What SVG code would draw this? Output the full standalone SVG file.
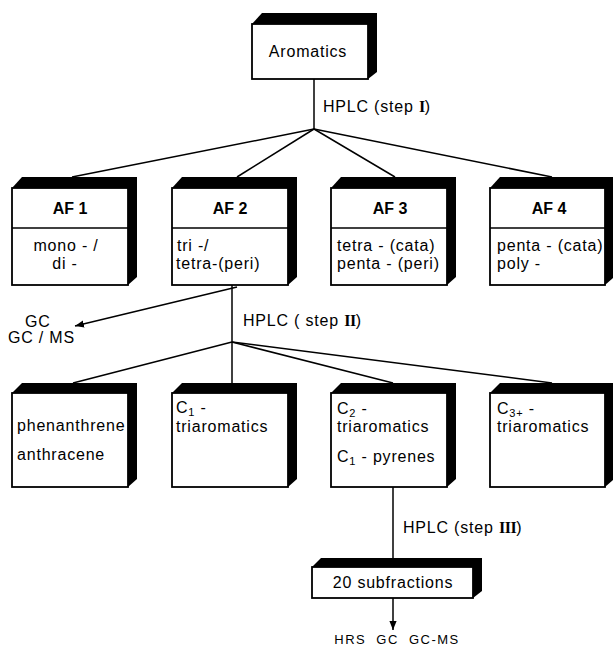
<svg xmlns="http://www.w3.org/2000/svg" width="613" height="648" viewBox="0 0 613 648">
<defs>
<style>
.side{fill:#000}
.face{fill:#fff;stroke:#000;stroke-width:1.8}
.t{font-family:"Liberation Sans",Arial,sans-serif;font-size:16px;letter-spacing:0.8px;fill:#000}
.b{font-family:"Liberation Sans",Arial,sans-serif;font-size:16px;font-weight:bold;fill:#000}
.rn{font-family:"Liberation Serif","Times New Roman",serif;font-weight:bold;letter-spacing:-0.5px}
.ln{stroke:#000;stroke-width:1.5;fill:none}
.sub{font-size:11px}
</style>
<marker id="ah" viewBox="0 0 10 10" refX="10" refY="5" markerWidth="9" markerHeight="9" markerUnits="userSpaceOnUse" orient="auto">
<path d="M0,1 L10,5 L0,9 Z" fill="#000"/>
</marker>
</defs>
<rect width="613" height="648" fill="#fff"/>

<g id="connectors">
<line class="ln" x1="314" y1="79" x2="314" y2="129"/>
<line class="ln" x1="314" y1="129" x2="72" y2="177"/>
<line class="ln" x1="314" y1="129" x2="237" y2="177"/>
<line class="ln" x1="314" y1="129" x2="395" y2="177"/>
<line class="ln" x1="314" y1="129" x2="552" y2="177"/>
<line class="ln" x1="232" y1="285" x2="232" y2="342"/>
<line class="ln" x1="237" y1="287" x2="75" y2="326" marker-end="url(#ah)"/>
<line class="ln" x1="232" y1="342" x2="73" y2="383"/>
<line class="ln" x1="232" y1="342" x2="232" y2="383"/>
<line class="ln" x1="232" y1="342" x2="393" y2="383"/>
<line class="ln" x1="232" y1="342" x2="552" y2="383"/>
<line class="ln" x1="393" y1="487" x2="393" y2="567"/>
<line class="ln" x1="393" y1="598" x2="393" y2="630" marker-end="url(#ah)"/>
<text class="t" x="323" y="112">HPLC (step <tspan class="rn">I</tspan>)</text>
<text class="t" x="243" y="326">HPLC ( step <tspan class="rn">II</tspan>)</text>
<text class="t" x="403" y="533">HPLC  (step <tspan class="rn">III</tspan>)</text>
<text class="t" x="25" y="327">GC</text>
<text class="t" x="8" y="343">GC / MS</text>
<text class="t" x="397" y="644" text-anchor="middle" style="font-size:13px;letter-spacing:1.5px;word-spacing:5px">HRS GC GC-MS</text>
</g>

<g id="aromatics">
<path class="side" d="M252,24 L262,13 L377,13 L377,72 L368,79 Z"/>
<rect class="face" x="252" y="24" width="116" height="55"/>
<text class="t" x="308" y="57" text-anchor="middle">Aromatics</text>
</g>

<g id="af1">
<path class="side" d="M12,188 L22,177 L137,177 L137,277 L128,285 Z"/>
<rect class="face" x="12" y="188" width="116" height="97"/>
<line class="ln" x1="12" y1="228" x2="128" y2="228"/>
<text class="b" x="70" y="214" text-anchor="middle">AF 1</text>
<text class="t" x="66" y="251" text-anchor="middle">mono - /</text>
<text class="t" x="65" y="269" text-anchor="middle">di -</text>
</g>

<g id="af2">
<path class="side" d="M172,188 L182,177 L297,177 L297,277 L288,285 Z"/>
<rect class="face" x="172" y="188" width="116" height="97"/>
<line class="ln" x1="172" y1="228" x2="288" y2="228"/>
<text class="b" x="230" y="214" text-anchor="middle">AF 2</text>
<text class="t" x="177" y="251">tri -/</text>
<text class="t" x="176" y="269">tetra-(peri)</text>
</g>

<g id="af3">
<path class="side" d="M331,188 L341,177 L456,177 L456,277 L447,285 Z"/>
<rect class="face" x="331" y="188" width="116" height="97"/>
<line class="ln" x1="331" y1="228" x2="447" y2="228"/>
<text class="b" x="390" y="214" text-anchor="middle">AF 3</text>
<text class="t" x="337" y="251">tetra - (cata)</text>
<text class="t" x="337" y="269">penta - (peri)</text>
</g>

<g id="af4">
<path class="side" d="M490,188 L500,177 L614,177 L614,277 L605,285 Z"/>
<rect class="face" x="490" y="188" width="115" height="97"/>
<line class="ln" x1="490" y1="228" x2="605" y2="228"/>
<text class="b" x="549" y="214" text-anchor="middle">AF 4</text>
<text class="t" x="497" y="251">penta - (cata)</text>
<text class="t" x="497" y="269">poly -</text>
</g>

<g id="phen">
<path class="side" d="M12,393 L22,383 L137,383 L137,479 L128,487 Z"/>
<rect class="face" x="12" y="393" width="116" height="94"/>
<text class="t" x="17" y="431">phenanthrene</text>
<text class="t" x="17" y="460">anthracene</text>
</g>

<g id="c1tri">
<path class="side" d="M172,393 L182,383 L297,383 L297,479 L288,487 Z"/>
<rect class="face" x="172" y="393" width="116" height="94"/>
<text class="t" x="176" y="413">C<tspan class="sub" dy="3">1</tspan><tspan dy="-3"> -</tspan></text>
<text class="t" x="176" y="432">triaromatics</text>
</g>

<g id="c2tri">
<path class="side" d="M331,393 L341,383 L456,383 L456,479 L447,487 Z"/>
<rect class="face" x="331" y="393" width="116" height="94"/>
<text class="t" x="337" y="414">C<tspan class="sub" dy="3">2</tspan><tspan dy="-3"> -</tspan></text>
<text class="t" x="337" y="432">triaromatics</text>
<text class="t" x="337" y="462">C<tspan class="sub" dy="3">1</tspan><tspan dy="-3"> - pyrenes</tspan></text>
</g>

<g id="c3tri">
<path class="side" d="M490,393 L500,383 L614,383 L614,479 L605,487 Z"/>
<rect class="face" x="490" y="393" width="115" height="94"/>
<text class="t" x="497" y="414">C<tspan class="sub" dy="3">3+</tspan><tspan dy="-3"> -</tspan></text>
<text class="t" x="497" y="432">triaromatics</text>
</g>

<g id="subfractions">
<path class="side" d="M312,567 L321,558 L482,558 L482,591 L473,598 Z"/>
<rect class="face" x="312" y="567" width="161" height="31"/>
<text class="t" x="393" y="588" text-anchor="middle">20 subfractions</text>
</g>
</svg>
